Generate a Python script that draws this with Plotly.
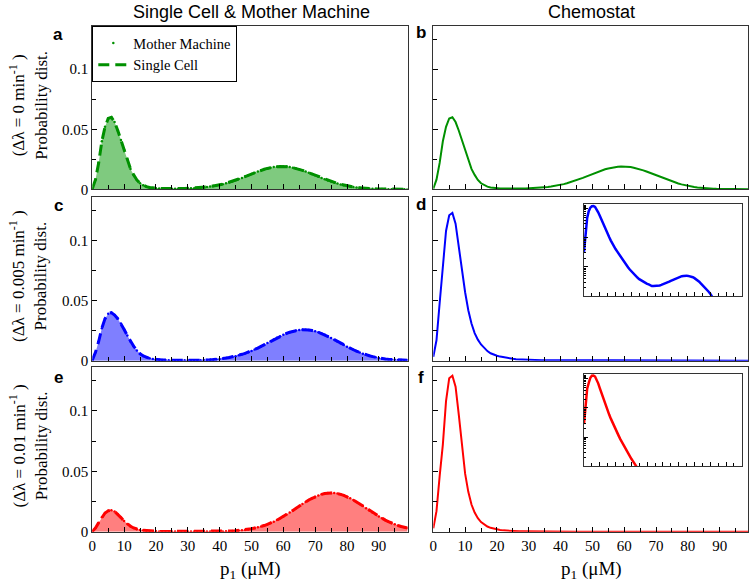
import plotly.graph_objects as go

# ---------------- data ----------------
p1 = list(range(100))  # p1 (uM) sampling grid

mother_machine_a = [
    0.0005, 0.008, 0.022, 0.040, 0.052, 0.059, 0.060, 0.056, 0.049, 0.041,
    0.033, 0.025, 0.017, 0.012, 0.0078, 0.0050, 0.0033, 0.0022, 0.0015, 0.0011,
    0.0009, 0.0007, 0.0006, 0.0005, 0.0005, 0.0005, 0.0005, 0.0005, 0.0006, 0.0006,
    0.0007, 0.0008, 0.0009, 0.0011, 0.0013, 0.0016, 0.0019, 0.0023, 0.0027, 0.0032,
    0.0037, 0.0043, 0.0050, 0.0058, 0.0066, 0.0075, 0.0085, 0.0095, 0.0106, 0.0117,
    0.0128, 0.0138, 0.0148, 0.0158, 0.0167, 0.0174, 0.0180, 0.0185, 0.0188, 0.0190,
    0.0190, 0.0189, 0.0186, 0.0180, 0.0174, 0.0166, 0.0158, 0.0148, 0.0138, 0.0127,
    0.0116, 0.0105, 0.0094, 0.0084, 0.0074, 0.0065, 0.0056, 0.0048, 0.0041, 0.0034,
    0.0028, 0.0023, 0.0019, 0.0015, 0.0012, 0.0010, 0.0008, 0.0006, 0.0005, 0.0004,
    0.0003, 0.0002, 0.0002, 0.0001, 0.0001, 0.0001, 0.0001, 0.0, 0.0, 0.0,
]
single_cell_a = mother_machine_a          # curves coincide in panel a
chemostat_b = mother_machine_a            # panel b has the same distribution

mother_machine_c = [
    0.0005, 0.007, 0.016, 0.027, 0.035, 0.039, 0.040, 0.038, 0.035, 0.031,
    0.026, 0.021, 0.016, 0.012, 0.0085, 0.0058, 0.0040, 0.0028, 0.0020, 0.0014,
    0.0010, 0.0008, 0.0006, 0.0005, 0.0004, 0.0004, 0.0003, 0.0003, 0.0003, 0.0003,
    0.0003, 0.0003, 0.0003, 0.0003, 0.0004, 0.0005, 0.0006, 0.0008, 0.0010, 0.0012,
    0.0015, 0.0018, 0.0022, 0.0027, 0.0032, 0.0038, 0.0045, 0.0053, 0.0061, 0.0071,
    0.0081, 0.0093, 0.0105, 0.0119, 0.0133, 0.0147, 0.0162, 0.0176, 0.0190, 0.0203,
    0.0216, 0.0227, 0.0237, 0.0245, 0.0252, 0.0256, 0.0258, 0.0258, 0.0256, 0.0251,
    0.0245, 0.0236, 0.0226, 0.0215, 0.0202, 0.0189, 0.0175, 0.0160, 0.0145, 0.0131,
    0.0117, 0.0104, 0.0091, 0.0079, 0.0068, 0.0058, 0.0049, 0.0041, 0.0034, 0.0028,
    0.0023, 0.0019, 0.0015, 0.0012, 0.0010, 0.0008, 0.0006, 0.0005, 0.0004, 0.0003,
]
single_cell_c = mother_machine_c

mother_machine_e = [
    0.0003, 0.003, 0.0075, 0.012, 0.0155, 0.0173, 0.0178, 0.0168, 0.0145, 0.0117,
    0.0088, 0.0064, 0.0045, 0.0031, 0.0021, 0.0015, 0.0011, 0.0008, 0.0006, 0.0004,
    0.0003, 0.0002, 0.0002, 0.0002, 0.0001, 0.0001, 0.0001, 0.0001, 0.0001, 0.0001,
    0.0001, 0.0001, 0.0001, 0.0001, 0.0001, 0.0001, 0.0001, 0.0001, 0.0001, 0.0001,
    0.0001, 0.0002, 0.0003, 0.0004, 0.0006, 0.0008, 0.0010, 0.0012, 0.0015, 0.0019,
    0.0024, 0.0030, 0.0036, 0.0043, 0.0051, 0.0061, 0.0071, 0.0083, 0.0096, 0.0111,
    0.0126, 0.0142, 0.0159, 0.0176, 0.0194, 0.0212, 0.0229, 0.0246, 0.0262, 0.0276,
    0.0289, 0.0300, 0.0309, 0.0316, 0.0320, 0.0321, 0.0320, 0.0316, 0.0309, 0.0300,
    0.0289, 0.0276, 0.0262, 0.0246, 0.0229, 0.0212, 0.0194, 0.0176, 0.0159, 0.0142,
    0.0126, 0.0111, 0.0096, 0.0083, 0.0071, 0.0061, 0.0051, 0.0043, 0.0036, 0.0030,
]
single_cell_e = mother_machine_e

chemostat_d = [
    0.0033, 0.017, 0.048, 0.082, 0.108, 0.121, 0.123, 0.114, 0.095, 0.075,
    0.057, 0.042, 0.031, 0.023, 0.0175, 0.0135, 0.0104, 0.0080, 0.0062, 0.0050,
    0.0041, 0.0034, 0.0028, 0.0023, 0.0019, 0.0016, 0.0013, 0.00112, 0.00095, 0.00081,
    0.00070, 0.00060, 0.00053, 0.00047, 0.00042, 0.00038, 0.00035, 0.00032, 0.00030, 0.00028,
    0.00026, 0.00025, 0.00023, 0.00022, 0.00022, 0.00022, 0.00022, 0.00022, 0.00023, 0.00024,
    0.00025, 0.00026, 0.00027, 0.00029, 0.00031, 0.00033, 0.00035, 0.00037, 0.00040, 0.00042,
    0.00044, 0.00046, 0.00048, 0.00049, 0.00050, 0.00050, 0.00049, 0.00048, 0.00046, 0.00044,
    0.00041, 0.00038, 0.00034, 0.00031, 0.00027, 0.00024, 0.00021, 0.00018, 0.00016, 0.00014,
    0.00012, 0.00010, 0.000088, 0.000075, 0.000063, 0.000053, 0.000044, 0.000036, 0.000030, 0.000024,
    0.000020, 0.000016, 0.000013, 0.000010, 0.000008, 0.000006, 0.000005, 0.000004, 0.000003, 0.000002,
]

chemostat_f = [
    0.0028, 0.017, 0.046, 0.072, 0.108, 0.127, 0.129, 0.120, 0.097, 0.070,
    0.048, 0.033, 0.0225, 0.0158, 0.0112, 0.0080, 0.0058, 0.0043, 0.0032, 0.0024,
    0.0018, 0.0014, 0.0011, 0.00085, 0.00067, 0.00053, 0.00042, 0.00034, 0.00027, 0.00022,
    0.00018, 0.00015, 0.00012, 0.00010, 0.000083, 0.000069, 0.000057, 0.000047, 0.000039, 0.000032,
    0.000027, 0.000022, 0.000018, 0.000015, 0.000012, 0.000010, 0.0, 0.0, 0.0, 0.0,
    0.0, 0.0, 0.0, 0.0, 0.0, 0.0, 0.0, 0.0, 0.0, 0.0,
    0.0, 0.0, 0.0, 0.0, 0.0, 0.0, 0.0, 0.0, 0.0, 0.0,
    0.0, 0.0, 0.0, 0.0, 0.0, 0.0, 0.0, 0.0, 0.0, 0.0,
    0.0, 0.0, 0.0, 0.0, 0.0, 0.0, 0.0, 0.0, 0.0, 0.0,
    0.0, 0.0, 0.0, 0.0, 0.0, 0.0, 0.0, 0.0, 0.0, 0.0,
]

y_tickvals = [0, 0.05, 0.1]
y_ticktext = ["0", "0.05", "0.1"]
y_minor = [0.025, 0.075, 0.125]
x_tickvals = [0, 10, 20, 30, 40, 50, 60, 70, 80, 90]
row_titles = ["(Δλ = 0 min<sup>-1</sup> )", "(Δλ = 0.005 min<sup>-1</sup> )", "(Δλ = 0.01 min<sup>-1</sup> )"]
panel_letters = ["a", "b", "c", "d", "e", "f"]

# ---------------- style ----------------
W, H = 749, 584
GREEN, BLUE, RED = "#009000", "#0000ff", "#ff0000"
FILLS = {GREEN: "rgba(0,150,0,0.5)", BLUE: "rgba(0,0,255,0.5)", RED: "rgba(255,0,0,0.5)"}
SERIF = "Liberation Serif"
SANS = "Liberation Sans"
FRAME = "#333333"


def px(x):
    return x / W


def py(y):
    return 1 - y / H


col_x = [(92.3, 407.5), (433.3, 748.3)]
row_y = [(26.0, 189.3), (197.3, 360.7), (367.3, 531.7)]

fig = go.Figure()
layout = dict(
    width=W, height=H, autosize=False,
    margin=dict(l=0, r=0, t=0, b=0, pad=0),
    paper_bgcolor="white", plot_bgcolor="white",
    showlegend=True,
)

idx = 0
for r in range(3):
    for c in range(2):
        idx += 1
        sfx = "" if idx == 1 else str(idx)
        x0, x1 = col_x[c]
        ytop, ybot = row_y[r]
        layout["xaxis" + sfx] = dict(
            domain=[px(x0), px(x1)], range=[0, 99], anchor="y" + sfx, automargin=False,
            tickvals=x_tickvals, ticks="inside", ticklen=5, tickwidth=1, tickcolor="black",
            minor=dict(dtick=5, tick0=0, ticks="inside", ticklen=4, tickcolor="black"),
            showticklabels=(r == 2),
            tickfont=dict(family=SERIF, size=15, color="black"),
            showline=True, linecolor=FRAME, linewidth=1, mirror=True,
            showgrid=False, zeroline=False,
        )
        layout["yaxis" + sfx] = dict(
            domain=[py(ybot), py(ytop)], range=[0, 0.136], anchor="x" + sfx, automargin=False,
            tickvals=y_tickvals, ticktext=y_ticktext,
            ticks="inside", ticklen=5, tickwidth=1, tickcolor="black",
            minor=dict(tickvals=y_minor, ticks="inside", ticklen=4, tickcolor="black"),
            showticklabels=(c == 0),
            tickfont=dict(family=SERIF, size=15, color="black"),
            showline=True, linecolor=FRAME, linewidth=1, mirror=True,
            showgrid=False, zeroline=False,
        )

# insets (log scale) for d and f
inset_x = (584.0, 741.8)
inset_rows = [(203.5, 296.0), (373.7, 466.2)]
log_major = [1e-3, 1e-2, 1e-1]
log_minor = [m * d for d in (1e-4, 1e-3, 1e-2) for m in range(2, 10)] + [0.11, 0.12, 0.13, 0.14]
for k, (ytop, ybot) in enumerate(inset_rows):
    sfx = str(7 + k)
    layout["xaxis" + sfx] = dict(
        domain=[px(inset_x[0]), px(inset_x[1])], range=[0, 100], anchor="y" + sfx, automargin=False,
        tickvals=[10, 20, 30, 40, 50, 60, 70, 80, 90], ticks="inside", ticklen=4, tickcolor="black",
        minor=dict(tickvals=[5, 15, 25, 35, 45, 55, 65, 75, 85, 95], ticks="inside", ticklen=3, tickcolor="black"),
        showticklabels=False, showline=True, linecolor=FRAME, linewidth=1, mirror=True,
        showgrid=False, zeroline=False,
    )
    layout["yaxis" + sfx] = dict(
        domain=[py(ybot), py(ytop)], type="log", range=[-4, -0.824], anchor="x" + sfx, automargin=False,
        tickvals=log_major, ticks="inside", ticklen=4, tickcolor="black",
        minor=dict(tickvals=log_minor, ticks="inside", ticklen=2, tickcolor="black"),
        showticklabels=False, showline=True, linecolor=FRAME, linewidth=1, mirror=True,
        showgrid=False, zeroline=False,
    )


def ax(i):
    return ("x" if i == 1 else "x%d" % i), ("y" if i == 1 else "y%d" % i)


# left column: mother machine (filled, dotted) + single cell (dashed)
left = [(1, mother_machine_a, single_cell_a, GREEN),
        (3, mother_machine_c, single_cell_c, BLUE),
        (5, mother_machine_e, single_cell_e, RED)]
for i, mm, sc, col in left:
    xa, ya = ax(i)
    fig.add_trace(go.Scatter(x=p1, y=mm, xaxis=xa, yaxis=ya, mode="lines",
                             line=dict(width=0, color=col), fill="tozeroy",
                             fillcolor=FILLS[col], showlegend=False, hoverinfo="skip"))
    fig.add_trace(go.Scatter(x=p1, y=mm, xaxis=xa, yaxis=ya, mode="markers",
                             marker=dict(size=2.5, color=col), name="Mother Machine",
                             showlegend=(i == 1)))
    fig.add_trace(go.Scatter(x=p1, y=sc, xaxis=xa, yaxis=ya, mode="lines",
                             line=dict(width=3, color=col, dash="11px,6px"), name="Single Cell",
                             showlegend=(i == 1)))

# right column: chemostat
right = [(2, chemostat_b, GREEN), (4, chemostat_d, BLUE), (6, chemostat_f, RED)]
for i, ch, col in right:
    xa, ya = ax(i)
    fig.add_trace(go.Scatter(x=p1, y=ch, xaxis=xa, yaxis=ya, mode="lines",
                             line=dict(width=2, color=col), showlegend=False, name="Chemostat"))

for i, ch, col in [(7, chemostat_d, BLUE), (8, chemostat_f, RED)]:
    xa, ya = ax(i)
    fig.add_trace(go.Scatter(x=p1, y=ch, xaxis=xa, yaxis=ya, mode="lines",
                             line=dict(width=2.5, color=col), showlegend=False, name="Chemostat"))

layout["legend"] = dict(
    x=px(92.3), y=py(26), xanchor="left", yanchor="top",
    bgcolor="white", bordercolor="black", borderwidth=1,
    font=dict(family=SERIF, size=14.5, color="black"),
    itemwidth=30, tracegroupgap=0,
)

ann = []
# column titles
ann.append(dict(text="Single Cell & Mother Machine", x=px(251), y=py(12), xref="paper", yref="paper",
                showarrow=False, xanchor="center", yanchor="middle",
                font=dict(family=SANS, size=18, color="black")))
ann.append(dict(text="Chemostat", x=px(591), y=py(12.5), xref="paper", yref="paper",
                showarrow=False, xanchor="center", yanchor="middle",
                font=dict(family=SANS, size=18, color="black")))
# panel letters
letter_pos = [(58, 34), (421, 33), (58, 205), (421, 204), (58, 377), (421, 377)]
for L, (lx, ly) in zip(panel_letters, letter_pos):
    ann.append(dict(text="<b>%s</b>" % L, x=px(lx), y=py(ly), xref="paper", yref="paper",
                    showarrow=False, xanchor="center", yanchor="middle",
                    font=dict(family=SANS, size=17, color="black")))
# y titles
for r, t in enumerate(row_titles):
    cy = (row_y[r][0] + row_y[r][1]) / 2 - 3
    ann.append(dict(text=t + "<br>Probability dist.", x=px(28), y=py(cy), xref="paper", yref="paper",
                    showarrow=False, xanchor="center", yanchor="middle", textangle=-90,
                    font=dict(family=SERIF, size=17, color="black")))
# x titles
for cx in (250, 591):
    ann.append(dict(text="p<sub>1</sub> (μM)", x=px(cx), y=py(570), xref="paper", yref="paper",
                    showarrow=False, xanchor="center", yanchor="middle",
                    font=dict(family=SERIF, size=19, color="black")))
layout["annotations"] = ann

fig.update_layout(**layout)
fig.write_html(
    "out.html",
    config={"displayModeBar": False},
    post_script="document.body.style.margin='0px'; document.body.style.overflow='hidden';",
)
